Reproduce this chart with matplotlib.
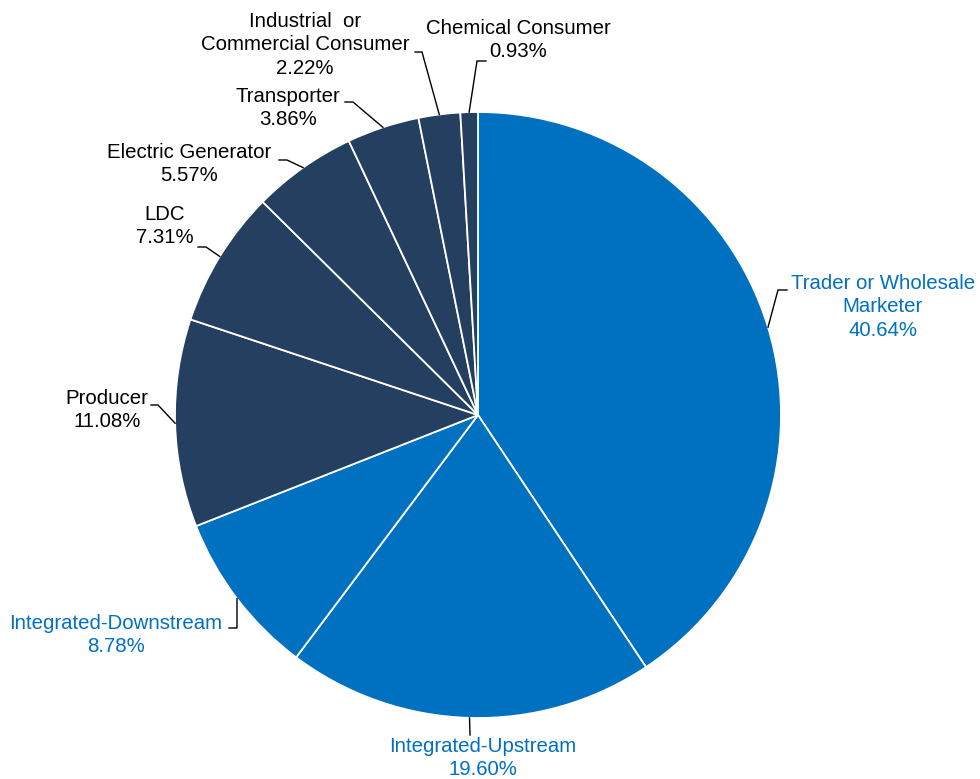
import numpy as np
import matplotlib
matplotlib.use("Agg")
import matplotlib.pyplot as plt

categories = ["Trader or Wholesale\nMarketer", "Integrated-Upstream", "Integrated-Downstream",
              "Producer", "LDC", "Electric Generator", "Transporter",
              "Industrial  or\nCommercial Consumer", "Chemical Consumer"]
shares = [40.64, 19.60, 8.78, 11.08, 7.31, 5.57, 3.86, 2.22, 0.93]

BLUE = "#0070C0"
NAVY = "#243F60"
slice_colors = [BLUE, BLUE, BLUE, NAVY, NAVY, NAVY, NAVY, NAVY, NAVY]
text_colors = [BLUE, BLUE, BLUE, "black", "black", "black", "black", "black", "black"]

W, H = 980, 779
CX, CY, R = 478, 415, 303


def px(x, y):
    """Pixel position -> data units (pie radius = 1)."""
    return (x - CX) / R, (CY - y) / R


# label layout in pixels: text centre, leader elbow, leader end near text
text_pos = [(883, 307), (483, 758), (116, 635), (107, 410), (165, 226),
            (189, 164), (288, 108), (305, 45), (518, 40)]
elbows = [(778, 290), (470, 735), (237, 628), (158, 405), (206, 247),
          (287, 160), (353, 102), (422, 52), (477, 61)]
ends = [(787, 290), (470, 735), (229, 628), (151, 405), (198, 247),
        (279, 160), (345, 102), (415, 52), (486, 61)]

plt.rcParams["font.family"] = ["Liberation Sans", "DejaVu Sans"]
fig = plt.figure(figsize=(W / 100, H / 100), dpi=100)
ax = fig.add_axes([0, 0, 1, 1])

wedges, _ = ax.pie(shares, colors=slice_colors, startangle=90, counterclock=False,
                   radius=1.0, center=(0, 0),
                   wedgeprops=dict(edgecolor="white", linewidth=1.3))

ax.set_xlim(-CX / R, (W - CX) / R)
ax.set_ylim(-(H - CY) / R, CY / R)
ax.set_aspect("equal")
ax.axis("off")

for w, name, val, tc, tp, el, en in zip(wedges, categories, shares, text_colors,
                                        text_pos, elbows, ends):
    mid = np.deg2rad((w.theta1 + w.theta2) / 2)
    anchor = (np.cos(mid), np.sin(mid))
    e = px(*el)
    n = px(*en)
    ax.plot([anchor[0], e[0], n[0]], [anchor[1], e[1], n[1]],
            color="black", linewidth=1.0, solid_joinstyle="miter")
    t = px(*tp)
    ax.text(t[0], t[1], f"{name}\n{val:.2f}%", ha="center", va="center",
            color=tc, fontsize=14.7, linespacing=1.32)

fig.savefig("out.png", dpi=100)
